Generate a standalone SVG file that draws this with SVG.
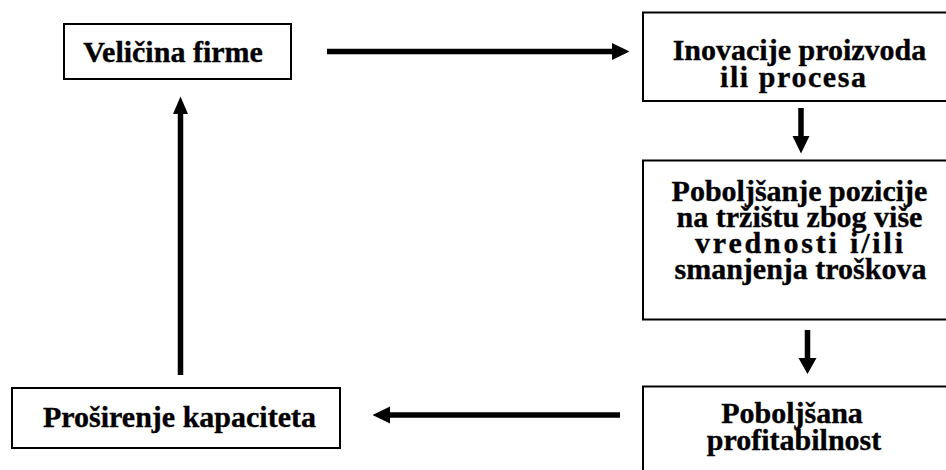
<svg xmlns="http://www.w3.org/2000/svg" width="946" height="470" viewBox="0 0 946 470">
  <style>
    .box { fill: #ffffff; stroke: #000000; stroke-width: 2; }
    .lbl { font-family: "Liberation Serif", "Times New Roman", serif; font-weight: bold; font-size: 30px; fill: #000000; stroke: #000000; stroke-width: 0.35; text-anchor: middle; }
    .shaft { stroke: #000000; stroke-width: 5.5; fill: none; }
    .head { fill: #000000; stroke: none; }
  </style>
  <rect width="946" height="470" fill="#ffffff"/>

  <g id="node-velicina">
    <rect class="box" x="64" y="24" width="227" height="55"/>
    <text class="lbl" x="173" y="61.5">Veličina firme</text>
  </g>

  <g id="node-inovacije">
    <rect class="box" x="643" y="12.5" width="330" height="88.5"/>
    <text class="lbl" x="799.5" y="60">Inovacije proizvoda</text>
    <text class="lbl" x="793" y="87" textLength="146" lengthAdjust="spacing">ili procesa</text>
  </g>

  <g id="node-pozicija">
    <rect class="box" x="643" y="160.5" width="330" height="159"/>
    <text class="lbl" x="799.5" y="200.5">Poboljšanje pozicije</text>
    <text class="lbl" x="799.5" y="226.5">na tržištu zbog više</text>
    <text class="lbl" x="799" y="252.5" textLength="208" lengthAdjust="spacing">vrednosti i/ili</text>
    <text class="lbl" x="800.5" y="278.5">smanjenja troškova</text>
  </g>

  <g id="node-profitabilnost">
    <rect class="box" x="643" y="386.5" width="330" height="110"/>
    <text class="lbl" x="792" y="423">Poboljšana</text>
    <text class="lbl" x="794" y="450">profitabilnost</text>
  </g>

  <g id="node-kapacitet">
    <rect class="box" x="12" y="388" width="328" height="60"/>
    <text class="lbl" x="179.5" y="427">Proširenje kapaciteta</text>
  </g>

  <g id="connectors">
    <!-- Veličina firme -> Inovacije -->
    <line class="shaft" x1="327" y1="51.5" x2="614" y2="51.5"/>
    <polygon class="head" points="612,43 629.5,51.5 612,60"/>
    <!-- Inovacije -> Poboljšanje pozicije -->
    <line class="shaft" x1="801" y1="108" x2="801" y2="137"/>
    <polygon class="head" points="792.5,136 801,153.5 809.5,136"/>
    <!-- Poboljšanje pozicije -> Poboljšana profitabilnost -->
    <line class="shaft" x1="807.5" y1="330" x2="807.5" y2="359"/>
    <polygon class="head" points="798.5,358 807.5,374 816.5,358"/>
    <!-- Poboljšana profitabilnost -> Proširenje kapaciteta -->
    <line class="shaft" x1="620" y1="415" x2="389" y2="415"/>
    <polygon class="head" points="390,406.5 372.5,415 390,423.5"/>
    <!-- Proširenje kapaciteta -> Veličina firme -->
    <line class="shaft" x1="180.5" y1="375" x2="180.5" y2="113"/>
    <polygon class="head" points="173,114 180.5,96.5 188,114"/>
  </g>
</svg>
